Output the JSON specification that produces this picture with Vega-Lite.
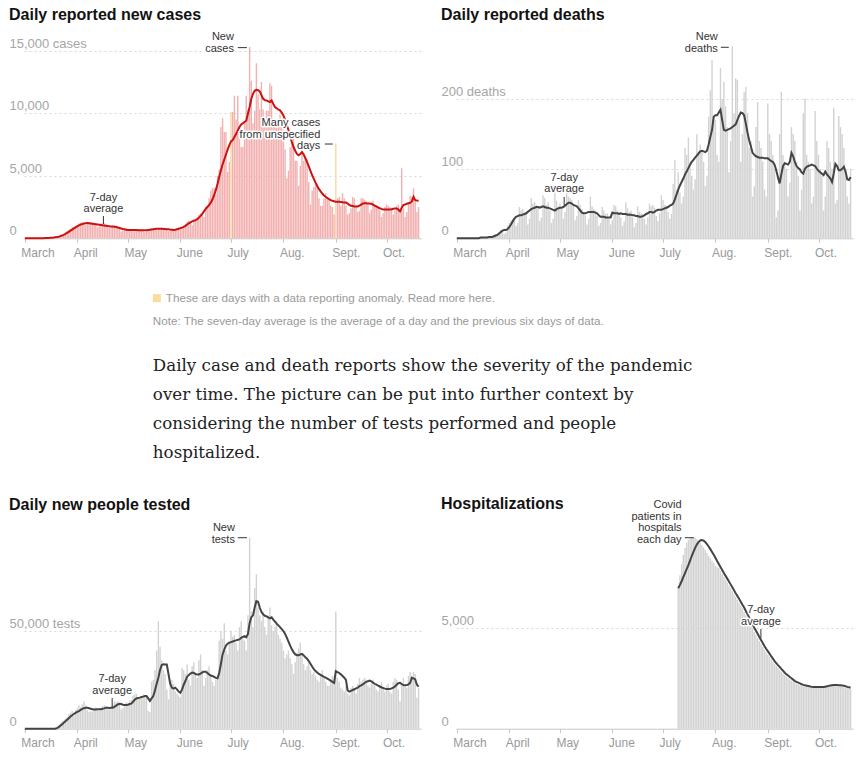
{
"$schema":"https://vega.github.io/schema/vega-lite/v6.json",
"background":"white",
"padding":{"left":9,"top":7,"right":5,"bottom":5},
"datasets":{"daily":[
{"date":"2020-03-01","cases":0,"cavg":0,"deaths":0,"davg":0,"tests":0,"tavg":0},
{"date":"2020-03-02","cases":2,"cavg":0,"deaths":0,"davg":0,"tests":0,"tavg":0},
{"date":"2020-03-03","cases":0,"cavg":0,"deaths":0,"davg":0,"tests":0,"tavg":0},
{"date":"2020-03-04","cases":1,"cavg":1,"deaths":0,"davg":0,"tests":0,"tavg":0},
{"date":"2020-03-05","cases":2,"cavg":1,"deaths":0,"davg":0,"tests":0,"tavg":0},
{"date":"2020-03-06","cases":3,"cavg":2,"deaths":0,"davg":0,"tests":0,"tavg":0},
{"date":"2020-03-07","cases":1,"cavg":2,"deaths":0,"davg":0,"tests":0,"tavg":0},
{"date":"2020-03-08","cases":4,"cavg":3,"deaths":0,"davg":0,"tests":0,"tavg":0},
{"date":"2020-03-09","cases":4,"cavg":4,"deaths":0,"davg":0,"tests":0,"tavg":0},
{"date":"2020-03-10","cases":6,"cavg":5,"deaths":0,"davg":0,"tests":0,"tavg":0},
{"date":"2020-03-11","cases":8,"cavg":7,"deaths":0,"davg":0,"tests":0,"tavg":0},
{"date":"2020-03-12","cases":12,"cavg":10,"deaths":1,"davg":0,"tests":0,"tavg":0},
{"date":"2020-03-13","cases":14,"cavg":15,"deaths":0,"davg":0,"tests":0,"tavg":0},
{"date":"2020-03-14","cases":22,"cavg":20,"deaths":1,"davg":0,"tests":0,"tavg":0},
{"date":"2020-03-15","cases":26,"cavg":27,"deaths":0,"davg":1,"tests":0,"tavg":0},
{"date":"2020-03-16","cases":38,"cavg":35,"deaths":1,"davg":1,"tests":0,"tavg":0},
{"date":"2020-03-17","cases":50,"cavg":45,"deaths":2,"davg":1,"tests":0,"tavg":0},
{"date":"2020-03-18","cases":70,"cavg":60,"deaths":1,"davg":1,"tests":200,"tavg":0},
{"date":"2020-03-19","cases":95,"cavg":80,"deaths":3,"davg":1,"tests":500,"tavg":0},
{"date":"2020-03-20","cases":115,"cavg":100,"deaths":2,"davg":2,"tests":900,"tavg":300},
{"date":"2020-03-21","cases":150,"cavg":130,"deaths":3,"davg":2,"tests":1800,"tavg":800},
{"date":"2020-03-22","cases":220,"cavg":170,"deaths":2,"davg":2,"tests":2800,"tavg":1500},
{"date":"2020-03-23","cases":280,"cavg":220,"deaths":4,"davg":3,"tests":3500,"tavg":2200},
{"date":"2020-03-24","cases":360,"cavg":280,"deaths":6,"davg":4,"tests":4200,"tavg":3000},
{"date":"2020-03-25","cases":470,"cavg":350,"deaths":5,"davg":5,"tests":5000,"tavg":3800},
{"date":"2020-03-26","cases":580,"cavg":430,"deaths":9,"davg":7,"tests":6000,"tavg":4600},
{"date":"2020-03-27","cases":690,"cavg":520,"deaths":12,"davg":9,"tests":7500,"tavg":5400},
{"date":"2020-03-28","cases":760,"cavg":610,"deaths":10,"davg":11,"tests":8200,"tavg":6200},
{"date":"2020-03-29","cases":880,"cavg":700,"deaths":6,"davg":12,"tests":9000,"tavg":6900},
{"date":"2020-03-30","cases":830,"cavg":790,"deaths":8,"davg":12,"tests":6500,"tavg":7500},
{"date":"2020-03-31","cases":1000,"cavg":880,"deaths":18,"davg":13,"tests":9600,"tavg":8100},
{"date":"2020-04-01","cases":1050,"cavg":960,"deaths":22,"davg":16,"tests":10500,"tavg":8600},
{"date":"2020-04-02","cases":1200,"cavg":1030,"deaths":26,"davg":20,"tests":12000,"tavg":9000},
{"date":"2020-04-03","cases":1260,"cavg":1090,"deaths":28,"davg":24,"tests":11000,"tavg":9600},
{"date":"2020-04-04","cases":1250,"cavg":1140,"deaths":30,"davg":28,"tests":12500,"tavg":10100},
{"date":"2020-04-05","cases":1220,"cavg":1180,"deaths":18,"davg":31,"tests":14000,"tavg":10500},
{"date":"2020-04-06","cases":1030,"cavg":1210,"deaths":22,"davg":32,"tests":12000,"tavg":10700},
{"date":"2020-04-07","cases":1100,"cavg":1220,"deaths":45,"davg":33,"tests":9500,"tavg":10750},
{"date":"2020-04-08","cases":1300,"cavg":1210,"deaths":40,"davg":33,"tests":8500,"tavg":10500},
{"date":"2020-04-09","cases":1270,"cavg":1190,"deaths":42,"davg":34,"tests":9000,"tavg":10200},
{"date":"2020-04-10","cases":1250,"cavg":1170,"deaths":35,"davg":35,"tests":8800,"tavg":9900},
{"date":"2020-04-11","cases":1180,"cavg":1150,"deaths":36,"davg":36,"tests":10500,"tavg":9800},
{"date":"2020-04-12","cases":1150,"cavg":1130,"deaths":20,"davg":38,"tests":11000,"tavg":9800},
{"date":"2020-04-13","cases":880,"cavg":1110,"deaths":28,"davg":40,"tests":9500,"tavg":9900},
{"date":"2020-04-14","cases":960,"cavg":1090,"deaths":58,"davg":42,"tests":9200,"tavg":9900},
{"date":"2020-04-15","cases":1180,"cavg":1070,"deaths":50,"davg":43,"tests":10500,"tavg":10000},
{"date":"2020-04-16","cases":1200,"cavg":1040,"deaths":52,"davg":44,"tests":11500,"tavg":10200},
{"date":"2020-04-17","cases":1200,"cavg":1020,"deaths":48,"davg":45,"tests":12000,"tavg":10400},
{"date":"2020-04-18","cases":1100,"cavg":1000,"deaths":46,"davg":45,"tests":11500,"tavg":10750},
{"date":"2020-04-19","cases":1000,"cavg":980,"deaths":25,"davg":44,"tests":10000,"tavg":10700},
{"date":"2020-04-20","cases":850,"cavg":960,"deaths":30,"davg":45,"tests":9800,"tavg":10600},
{"date":"2020-04-21","cases":880,"cavg":950,"deaths":62,"davg":46,"tests":11000,"tavg":10700},
{"date":"2020-04-22","cases":1050,"cavg":935,"deaths":58,"davg":45,"tests":12500,"tavg":10750},
{"date":"2020-04-23","cases":1040,"cavg":925,"deaths":48,"davg":44,"tests":14000,"tavg":11200},
{"date":"2020-04-24","cases":1010,"cavg":900,"deaths":52,"davg":44,"tests":13500,"tavg":11800},
{"date":"2020-04-25","cases":950,"cavg":870,"deaths":40,"davg":43,"tests":14000,"tavg":12400},
{"date":"2020-04-26","cases":800,"cavg":830,"deaths":22,"davg":42,"tests":13000,"tavg":12800},
{"date":"2020-04-27","cases":550,"cavg":790,"deaths":28,"davg":41,"tests":10000,"tavg":12600},
{"date":"2020-04-28","cases":620,"cavg":750,"deaths":72,"davg":40,"tests":10500,"tavg":12300},
{"date":"2020-04-29","cases":750,"cavg":720,"deaths":54,"davg":42,"tests":11500,"tavg":12100},
{"date":"2020-04-30","cases":810,"cavg":690,"deaths":46,"davg":43,"tests":13500,"tavg":12100},
{"date":"2020-05-01","cases":780,"cavg":670,"deaths":50,"davg":44,"tests":13000,"tavg":12300},
{"date":"2020-05-02","cases":720,"cavg":660,"deaths":42,"davg":44,"tests":14500,"tavg":12600},
{"date":"2020-05-03","cases":660,"cavg":660,"deaths":28,"davg":45,"tests":14500,"tavg":12800},
{"date":"2020-05-04","cases":560,"cavg":660,"deaths":38,"davg":47,"tests":17000,"tavg":13800},
{"date":"2020-05-05","cases":600,"cavg":660,"deaths":68,"davg":49,"tests":17500,"tavg":14800},
{"date":"2020-05-06","cases":710,"cavg":660,"deaths":60,"davg":51,"tests":18000,"tavg":15500},
{"date":"2020-05-07","cases":730,"cavg":650,"deaths":58,"davg":51,"tests":16000,"tavg":15700},
{"date":"2020-05-08","cases":740,"cavg":650,"deaths":55,"davg":50,"tests":15500,"tavg":15900},
{"date":"2020-05-09","cases":700,"cavg":640,"deaths":48,"davg":48,"tests":16500,"tavg":16200},
{"date":"2020-05-10","cases":620,"cavg":640,"deaths":26,"davg":47,"tests":17500,"tavg":16400},
{"date":"2020-05-11","cases":480,"cavg":640,"deaths":32,"davg":46,"tests":17000,"tavg":16700},
{"date":"2020-05-12","cases":560,"cavg":640,"deaths":55,"davg":43,"tests":16500,"tavg":16700},
{"date":"2020-05-13","cases":700,"cavg":660,"deaths":48,"davg":40,"tests":9000,"tavg":15500},
{"date":"2020-05-14","cases":760,"cavg":680,"deaths":42,"davg":37,"tests":8500,"tavg":14200},
{"date":"2020-05-15","cases":800,"cavg":700,"deaths":38,"davg":36,"tests":24000,"tavg":15500},
{"date":"2020-05-16","cases":780,"cavg":720,"deaths":33,"davg":36,"tests":25000,"tavg":16700},
{"date":"2020-05-17","cases":750,"cavg":740,"deaths":20,"davg":37,"tests":30000,"tavg":19500},
{"date":"2020-05-18","cases":630,"cavg":760,"deaths":28,"davg":38,"tests":40000,"tavg":23000},
{"date":"2020-05-19","cases":680,"cavg":770,"deaths":60,"davg":38,"tests":55000,"tavg":26100},
{"date":"2020-05-20","cases":850,"cavg":770,"deaths":46,"davg":38,"tests":42000,"tavg":30000},
{"date":"2020-05-21","cases":860,"cavg":760,"deaths":42,"davg":38,"tests":35000,"tavg":32600},
{"date":"2020-05-22","cases":830,"cavg":750,"deaths":40,"davg":37,"tests":30000,"tavg":33000},
{"date":"2020-05-23","cases":800,"cavg":740,"deaths":32,"davg":36,"tests":28000,"tavg":32900},
{"date":"2020-05-24","cases":700,"cavg":730,"deaths":18,"davg":33,"tests":20000,"tavg":32900},
{"date":"2020-05-25","cases":560,"cavg":720,"deaths":22,"davg":31,"tests":15000,"tavg":28000},
{"date":"2020-05-26","cases":620,"cavg":700,"deaths":45,"davg":31,"tests":22000,"tavg":23000},
{"date":"2020-05-27","cases":740,"cavg":690,"deaths":40,"davg":31,"tests":25000,"tavg":21000},
{"date":"2020-05-28","cases":760,"cavg":670,"deaths":35,"davg":30,"tests":23000,"tavg":20500},
{"date":"2020-05-29","cases":750,"cavg":690,"deaths":36,"davg":30,"tests":19000,"tavg":21000},
{"date":"2020-05-30","cases":850,"cavg":720,"deaths":28,"davg":30,"tests":18000,"tavg":20100},
{"date":"2020-05-31","cases":800,"cavg":760,"deaths":20,"davg":30,"tests":17000,"tavg":19000},
{"date":"2020-06-01","cases":680,"cavg":800,"deaths":26,"davg":37,"tests":16000,"tavg":18400},
{"date":"2020-06-02","cases":780,"cavg":850,"deaths":48,"davg":36,"tests":31000,"tavg":20000},
{"date":"2020-06-03","cases":1000,"cavg":920,"deaths":46,"davg":36,"tests":30000,"tavg":22500},
{"date":"2020-06-04","cases":1100,"cavg":1000,"deaths":40,"davg":36,"tests":28000,"tavg":24400},
{"date":"2020-06-05","cases":1300,"cavg":1100,"deaths":38,"davg":35,"tests":33000,"tavg":26500},
{"date":"2020-06-06","cases":1400,"cavg":1200,"deaths":30,"davg":36,"tests":25000,"tavg":27500},
{"date":"2020-06-07","cases":1270,"cavg":1280,"deaths":18,"davg":35,"tests":22000,"tavg":28200},
{"date":"2020-06-08","cases":1050,"cavg":1350,"deaths":24,"davg":35,"tests":32000,"tavg":28700},
{"date":"2020-06-09","cases":1300,"cavg":1400,"deaths":52,"davg":35,"tests":34000,"tavg":28500},
{"date":"2020-06-10","cases":1600,"cavg":1450,"deaths":43,"davg":34,"tests":28000,"tavg":28000},
{"date":"2020-06-11","cases":1700,"cavg":1520,"deaths":38,"davg":34,"tests":26000,"tavg":27800},
{"date":"2020-06-12","cases":1900,"cavg":1650,"deaths":40,"davg":34,"tests":35000,"tavg":27800},
{"date":"2020-06-13","cases":2000,"cavg":1800,"deaths":30,"davg":33,"tests":38000,"tavg":28200},
{"date":"2020-06-14","cases":1900,"cavg":1950,"deaths":16,"davg":33,"tests":30000,"tavg":28800},
{"date":"2020-06-15","cases":1700,"cavg":2150,"deaths":22,"davg":32,"tests":22000,"tavg":29200},
{"date":"2020-06-16","cases":2500,"cavg":2350,"deaths":46,"davg":32,"tests":26000,"tavg":29200},
{"date":"2020-06-17","cases":2600,"cavg":2500,"deaths":38,"davg":31,"tests":30000,"tavg":28500},
{"date":"2020-06-18","cases":3200,"cavg":2650,"deaths":36,"davg":31,"tests":32000,"tavg":27800},
{"date":"2020-06-19","cases":3800,"cavg":2850,"deaths":35,"davg":32,"tests":28000,"tavg":27200},
{"date":"2020-06-20","cases":4000,"cavg":3100,"deaths":28,"davg":33,"tests":24000,"tavg":27000},
{"date":"2020-06-21","cases":4050,"cavg":3450,"deaths":20,"davg":35,"tests":22000,"tavg":26500},
{"date":"2020-06-22","cases":3500,"cavg":3850,"deaths":30,"davg":36,"tests":25000,"tavg":26000},
{"date":"2020-06-23","cases":5000,"cavg":4350,"deaths":50,"davg":38,"tests":27000,"tavg":25800},
{"date":"2020-06-24","cases":5500,"cavg":4900,"deaths":46,"davg":38,"tests":45000,"tavg":28500},
{"date":"2020-06-25","cases":8900,"cavg":5450,"deaths":48,"davg":37,"tests":50000,"tavg":33000},
{"date":"2020-06-26","cases":9600,"cavg":5900,"deaths":44,"davg":38,"tests":46000,"tavg":38000},
{"date":"2020-06-27","cases":8500,"cavg":6300,"deaths":32,"davg":40,"tests":54000,"tavg":40500},
{"date":"2020-06-28","cases":8500,"cavg":6700,"deaths":25,"davg":41,"tests":40000,"tavg":42500},
{"date":"2020-06-29","cases":5300,"cavg":7100,"deaths":36,"davg":41,"tests":38000,"tavg":43500},
{"date":"2020-06-30","cases":6100,"cavg":7450,"deaths":62,"davg":41,"tests":44000,"tavg":44000},
{"date":"2020-07-01","cases":10100,"cavg":7750,"deaths":55,"davg":42,"tests":50000,"tavg":44300,"anomaly":true},
{"date":"2020-07-02","cases":10100,"cavg":7850,"deaths":48,"davg":43,"tests":47000,"tavg":44600},
{"date":"2020-07-03","cases":11400,"cavg":8100,"deaths":47,"davg":44,"tests":48000,"tavg":45000},
{"date":"2020-07-04","cases":9500,"cavg":8350,"deaths":38,"davg":45,"tests":44000,"tavg":45200},
{"date":"2020-07-05","cases":11400,"cavg":8600,"deaths":28,"davg":47,"tests":40000,"tavg":45500},
{"date":"2020-07-06","cases":8500,"cavg":8900,"deaths":35,"davg":48,"tests":52000,"tavg":45700},
{"date":"2020-07-07","cases":7300,"cavg":9100,"deaths":78,"davg":50,"tests":55000,"tavg":46500},
{"date":"2020-07-08","cases":7300,"cavg":9200,"deaths":113,"davg":56,"tests":46000,"tavg":47000},
{"date":"2020-07-09","cases":9400,"cavg":9300,"deaths":70,"davg":63,"tests":45000,"tavg":47400},
{"date":"2020-07-10","cases":11400,"cavg":9400,"deaths":95,"davg":70,"tests":40000,"tavg":46800,"hosp":7000,"havg":6950},
{"date":"2020-07-11","cases":10300,"cavg":9970,"deaths":66,"davg":76,"tests":58000,"tavg":48500,"hosp":7600,"havg":7120},
{"date":"2020-07-12","cases":15300,"cavg":10500,"deaths":50,"davg":81,"tests":97800,"tavg":54000,"hosp":8150,"havg":7300},
{"date":"2020-07-13","cases":12600,"cavg":11160,"deaths":60,"davg":86,"tests":60000,"tavg":57000,"hosp":8600,"havg":7500},
{"date":"2020-07-14","cases":9200,"cavg":11550,"deaths":130,"davg":92,"tests":52000,"tavg":58000,"hosp":8950,"havg":7700},
{"date":"2020-07-15","cases":10200,"cavg":11800,"deaths":120,"davg":96,"tests":72000,"tavg":62000,"hosp":9200,"havg":7900},
{"date":"2020-07-16","cases":14000,"cavg":11880,"deaths":145,"davg":101,"tests":79000,"tavg":65300,"hosp":9350,"havg":8100},
{"date":"2020-07-17","cases":11500,"cavg":11850,"deaths":110,"davg":106,"tests":62000,"tavg":65000,"hosp":9430,"havg":8320},
{"date":"2020-07-18","cases":10300,"cavg":11750,"deaths":90,"davg":110,"tests":58000,"tavg":62000,"hosp":9470,"havg":8550},
{"date":"2020-07-19","cases":12500,"cavg":11450,"deaths":70,"davg":113,"tests":55000,"tavg":59700,"hosp":9470,"havg":8750},
{"date":"2020-07-20","cases":10300,"cavg":11160,"deaths":85,"davg":116,"tests":60000,"tavg":58500,"hosp":9440,"havg":8950},
{"date":"2020-07-21","cases":9400,"cavg":11050,"deaths":150,"davg":119,"tests":52000,"tavg":57800,"hosp":9380,"havg":9120},
{"date":"2020-07-22","cases":10200,"cavg":11030,"deaths":120,"davg":122,"tests":48000,"tavg":57500,"hosp":9300,"havg":9240},
{"date":"2020-07-23","cases":10200,"cavg":10950,"deaths":135,"davg":125,"tests":58000,"tavg":57000,"hosp":9200,"havg":9320},
{"date":"2020-07-24","cases":12400,"cavg":10900,"deaths":125,"davg":126,"tests":62000,"tavg":56500,"hosp":9090,"havg":9340},
{"date":"2020-07-25","cases":12200,"cavg":11030,"deaths":110,"davg":125,"tests":53000,"tavg":57000,"hosp":8970,"havg":9310},
{"date":"2020-07-26","cases":9300,"cavg":10750,"deaths":75,"davg":124,"tests":50000,"tavg":55800,"hosp":8840,"havg":9240},
{"date":"2020-07-27","cases":8900,"cavg":10500,"deaths":90,"davg":126,"tests":52000,"tavg":54800,"hosp":8700,"havg":9140},
{"date":"2020-07-28","cases":9200,"cavg":10400,"deaths":175,"davg":135,"tests":55000,"tavg":53800,"hosp":8560,"havg":9020},
{"date":"2020-07-29","cases":9400,"cavg":10300,"deaths":213,"davg":146,"tests":48000,"tavg":52900,"hosp":8440,"havg":8890},
{"date":"2020-07-30","cases":9900,"cavg":10230,"deaths":256,"davg":156,"tests":46000,"tavg":52000,"hosp":8320,"havg":8750},
{"date":"2020-07-31","cases":9000,"cavg":10050,"deaths":175,"davg":175,"tests":44000,"tavg":51000,"hosp":8200,"havg":8610},
{"date":"2020-08-01","cases":9600,"cavg":9830,"deaths":170,"davg":177,"tests":40000,"tavg":50000,"hosp":8060,"havg":8460},
{"date":"2020-08-02","cases":7100,"cavg":9450,"deaths":120,"davg":177,"tests":36000,"tavg":48500,"hosp":8000,"havg":8300},
{"date":"2020-08-03","cases":4800,"cavg":9050,"deaths":110,"davg":181,"tests":38000,"tavg":46600,"hosp":7950,"havg":8150},
{"date":"2020-08-04","cases":5400,"cavg":8640,"deaths":245,"davg":185,"tests":40000,"tavg":44500,"hosp":7810,"havg":8000},
{"date":"2020-08-05","cases":7300,"cavg":8150,"deaths":200,"davg":170,"tests":36000,"tavg":42500,"hosp":7660,"havg":7860},
{"date":"2020-08-06","cases":7700,"cavg":7700,"deaths":225,"davg":156,"tests":33000,"tavg":40600,"hosp":7520,"havg":7710},
{"date":"2020-08-07","cases":8500,"cavg":7300,"deaths":190,"davg":155,"tests":28000,"tavg":39200,"hosp":7380,"havg":7570},
{"date":"2020-08-08","cases":6200,"cavg":7000,"deaths":160,"davg":156,"tests":34000,"tavg":38000,"hosp":7240,"havg":7430},
{"date":"2020-08-09","cases":6200,"cavg":6750,"deaths":95,"davg":157,"tests":39000,"tavg":37600,"hosp":7095,"havg":7290},
{"date":"2020-08-10","cases":4200,"cavg":6640,"deaths":140,"davg":158,"tests":41000,"tavg":37600,"hosp":6950,"havg":7145},
{"date":"2020-08-11","cases":5800,"cavg":6750,"deaths":276,"davg":160,"tests":44000,"tavg":38000,"hosp":6810,"havg":7000},
{"date":"2020-08-12","cases":8100,"cavg":6900,"deaths":180,"davg":162,"tests":38000,"tavg":38300,"hosp":6660,"havg":6860},
{"date":"2020-08-13","cases":6200,"cavg":6700,"deaths":230,"davg":164,"tests":33000,"tavg":37500,"hosp":6520,"havg":6710},
{"date":"2020-08-14","cases":6400,"cavg":6400,"deaths":228,"davg":170,"tests":30000,"tavg":36500,"hosp":6380,"havg":6570},
{"date":"2020-08-15","cases":6300,"cavg":6100,"deaths":170,"davg":176,"tests":32000,"tavg":35800,"hosp":6240,"havg":6430},
{"date":"2020-08-16","cases":4500,"cavg":5750,"deaths":110,"davg":181,"tests":34000,"tavg":34600,"hosp":6090,"havg":6290},
{"date":"2020-08-17","cases":2700,"cavg":5400,"deaths":150,"davg":180,"tests":30000,"tavg":33200,"hosp":5950,"havg":6140},
{"date":"2020-08-18","cases":3800,"cavg":5050,"deaths":210,"davg":177,"tests":28000,"tavg":31800,"hosp":5780,"havg":6000},
{"date":"2020-08-19","cases":4100,"cavg":4750,"deaths":218,"davg":165,"tests":29000,"tavg":30500,"hosp":5620,"havg":5830},
{"date":"2020-08-20","cases":4300,"cavg":4450,"deaths":180,"davg":152,"tests":27000,"tavg":29500,"hosp":5450,"havg":5670},
{"date":"2020-08-21","cases":4300,"cavg":4180,"deaths":130,"davg":141,"tests":25000,"tavg":28800,"hosp":5280,"havg":5500},
{"date":"2020-08-22","cases":3200,"cavg":3950,"deaths":140,"davg":132,"tests":24000,"tavg":28000,"hosp":5120,"havg":5330},
{"date":"2020-08-23","cases":2600,"cavg":3750,"deaths":60,"davg":123,"tests":28000,"tavg":27500,"hosp":4950,"havg":5170},
{"date":"2020-08-24","cases":2600,"cavg":3580,"deaths":75,"davg":120,"tests":30000,"tavg":27000,"hosp":4800,"havg":5000},
{"date":"2020-08-25","cases":3200,"cavg":3430,"deaths":160,"davg":118,"tests":26000,"tavg":26500,"hosp":4650,"havg":4850},
{"date":"2020-08-26","cases":3600,"cavg":3320,"deaths":196,"davg":117,"tests":24000,"tavg":26100,"hosp":4490,"havg":4700},
{"date":"2020-08-27","cases":3300,"cavg":3220,"deaths":140,"davg":116,"tests":22000,"tavg":25600,"hosp":4340,"havg":4540},
{"date":"2020-08-28","cases":3200,"cavg":3130,"deaths":130,"davg":116,"tests":22000,"tavg":25100,"hosp":4190,"havg":4390},
{"date":"2020-08-29","cases":2600,"cavg":3060,"deaths":110,"davg":116,"tests":25000,"tavg":24600,"hosp":4040,"havg":4240},
{"date":"2020-08-30","cases":2500,"cavg":3000,"deaths":70,"davg":115,"tests":27000,"tavg":24000,"hosp":3910,"havg":4090},
{"date":"2020-08-31","cases":1900,"cavg":2960,"deaths":60,"davg":115,"tests":24000,"tavg":23500,"hosp":3790,"havg":3960},
{"date":"2020-09-01","cases":7600,"cavg":2930,"deaths":194,"davg":115,"tests":60000,"tavg":29500,"hosp":3670,"havg":3840,"anomaly":true},
{"date":"2020-09-02","cases":3200,"cavg":2920,"deaths":150,"davg":113,"tests":26000,"tavg":29000,"hosp":3540,"havg":3720},
{"date":"2020-09-03","cases":3300,"cavg":2920,"deaths":140,"davg":111,"tests":24000,"tavg":28500,"hosp":3420,"havg":3590},
{"date":"2020-09-04","cases":2600,"cavg":2900,"deaths":120,"davg":110,"tests":21000,"tavg":27800,"hosp":3300,"havg":3470},
{"date":"2020-09-05","cases":3600,"cavg":2880,"deaths":100,"davg":106,"tests":20000,"tavg":27000,"hosp":3200,"havg":3350},
{"date":"2020-09-06","cases":3200,"cavg":2870,"deaths":30,"davg":98,"tests":19000,"tavg":26100,"hosp":3100,"havg":3250},
{"date":"2020-09-07","cases":2600,"cavg":2860,"deaths":40,"davg":88,"tests":22000,"tavg":25000,"hosp":3010,"havg":3150},
{"date":"2020-09-08","cases":1900,"cavg":2780,"deaths":150,"davg":79,"tests":18000,"tavg":19600,"hosp":2910,"havg":3060},
{"date":"2020-09-09","cases":2000,"cavg":2680,"deaths":211,"davg":92,"tests":17000,"tavg":19000,"hosp":2820,"havg":2960},
{"date":"2020-09-10","cases":2400,"cavg":2600,"deaths":120,"davg":104,"tests":21000,"tavg":19400,"hosp":2720,"havg":2870},
{"date":"2020-09-11","cases":3300,"cavg":2580,"deaths":110,"davg":108,"tests":22000,"tavg":19800,"hosp":2650,"havg":2770},
{"date":"2020-09-12","cases":3200,"cavg":2550,"deaths":100,"davg":107,"tests":20000,"tavg":20200,"hosp":2580,"havg":2700},
{"date":"2020-09-13","cases":2600,"cavg":2550,"deaths":60,"davg":106,"tests":18000,"tavg":20600,"hosp":2510,"havg":2630},
{"date":"2020-09-14","cases":2100,"cavg":2550,"deaths":80,"davg":110,"tests":23000,"tavg":21000,"hosp":2450,"havg":2560},
{"date":"2020-09-15","cases":2200,"cavg":2620,"deaths":160,"davg":123,"tests":26000,"tavg":21800,"hosp":2380,"havg":2500},
{"date":"2020-09-16","cases":3200,"cavg":2700,"deaths":150,"davg":118,"tests":24000,"tavg":22200,"hosp":2310,"havg":2430},
{"date":"2020-09-17","cases":3200,"cavg":2780,"deaths":140,"davg":110,"tests":25000,"tavg":22700,"hosp":2270,"havg":2360},
{"date":"2020-09-18","cases":3100,"cavg":2800,"deaths":110,"davg":104,"tests":26000,"tavg":23400,"hosp":2230,"havg":2320},
{"date":"2020-09-19","cases":3000,"cavg":2800,"deaths":90,"davg":101,"tests":25000,"tavg":24000,"hosp":2190,"havg":2280},
{"date":"2020-09-20","cases":2800,"cavg":2790,"deaths":40,"davg":99,"tests":22000,"tavg":24300,"hosp":2150,"havg":2240},
{"date":"2020-09-21","cases":2000,"cavg":2790,"deaths":70,"davg":95,"tests":21000,"tavg":24600,"hosp":2120,"havg":2200},
{"date":"2020-09-22","cases":2300,"cavg":2760,"deaths":180,"davg":93,"tests":23000,"tavg":24200,"hosp":2100,"havg":2170},
{"date":"2020-09-23","cases":3000,"cavg":2700,"deaths":201,"davg":100,"tests":25000,"tavg":23600,"hosp":2080,"havg":2150},
{"date":"2020-09-24","cases":2700,"cavg":2620,"deaths":120,"davg":103,"tests":22000,"tavg":23000,"hosp":2060,"havg":2130},
{"date":"2020-09-25","cases":2500,"cavg":2550,"deaths":110,"davg":104,"tests":20000,"tavg":22500,"hosp":2040,"havg":2110},
{"date":"2020-09-26","cases":2500,"cavg":2470,"deaths":100,"davg":105,"tests":19000,"tavg":22000,"hosp":2020,"havg":2090},
{"date":"2020-09-27","cases":2200,"cavg":2400,"deaths":50,"davg":106,"tests":22000,"tavg":21600,"hosp":2010,"havg":2070},
{"date":"2020-09-28","cases":1700,"cavg":2350,"deaths":60,"davg":105,"tests":24000,"tavg":21200,"hosp":2010,"havg":2060},
{"date":"2020-09-29","cases":2000,"cavg":2310,"deaths":183,"davg":104,"tests":21000,"tavg":20800,"hosp":2010,"havg":2060},
{"date":"2020-09-30","cases":2500,"cavg":2300,"deaths":140,"davg":100,"tests":19000,"tavg":20500,"hosp":2010,"havg":2060},
{"date":"2020-10-01","cases":2700,"cavg":2310,"deaths":120,"davg":97,"tests":22000,"tavg":20300,"hosp":2010,"havg":2060},
{"date":"2020-10-02","cases":2600,"cavg":2310,"deaths":100,"davg":95,"tests":23000,"tavg":20300,"hosp":2010,"havg":2060},
{"date":"2020-10-03","cases":2500,"cavg":2310,"deaths":90,"davg":93,"tests":19000,"tavg":20300,"hosp":2030,"havg":2060},
{"date":"2020-10-04","cases":2400,"cavg":2330,"deaths":40,"davg":91,"tests":18000,"tavg":20600,"hosp":2050,"havg":2060},
{"date":"2020-10-05","cases":1900,"cavg":2360,"deaths":60,"davg":96,"tests":24000,"tavg":21000,"hosp":2070,"havg":2080},
{"date":"2020-10-06","cases":2200,"cavg":2390,"deaths":140,"davg":92,"tests":26000,"tavg":21600,"hosp":2090,"havg":2100},
{"date":"2020-10-07","cases":2600,"cavg":2390,"deaths":130,"davg":89,"tests":25000,"tavg":22500,"hosp":2100,"havg":2120},
{"date":"2020-10-08","cases":2700,"cavg":2300,"deaths":110,"davg":86,"tests":20000,"tavg":23300,"hosp":2110,"havg":2140},
{"date":"2020-10-09","cases":2000,"cavg":2150,"deaths":100,"davg":81,"tests":14000,"tavg":23500,"hosp":2110,"havg":2150},
{"date":"2020-10-10","cases":5600,"cavg":2450,"deaths":188,"davg":93,"tests":22000,"tavg":22800,"hosp":2110,"havg":2160},
{"date":"2020-10-11","cases":2400,"cavg":2660,"deaths":50,"davg":107,"tests":26000,"tavg":22300,"hosp":2110,"havg":2160},
{"date":"2020-10-12","cases":1700,"cavg":2700,"deaths":55,"davg":104,"tests":22000,"tavg":22200,"hosp":2100,"havg":2160},
{"date":"2020-10-13","cases":2100,"cavg":2760,"deaths":176,"davg":98,"tests":21000,"tavg":22400,"hosp":2100,"havg":2150},
{"date":"2020-10-14","cases":2900,"cavg":2800,"deaths":160,"davg":98,"tests":27000,"tavg":22700,"hosp":2090,"havg":2150},
{"date":"2020-10-15","cases":3400,"cavg":2840,"deaths":150,"davg":100,"tests":29000,"tavg":23500,"hosp":2080,"havg":2140},
{"date":"2020-10-16","cases":3300,"cavg":2950,"deaths":130,"davg":103,"tests":27000,"tavg":26100,"hosp":2050,"havg":2130},
{"date":"2020-10-17","cases":4000,"cavg":3320,"deaths":90,"davg":96,"tests":29000,"tavg":25800,"hosp":2020,"havg":2100},
{"date":"2020-10-18","cases":3000,"cavg":3050,"deaths":60,"davg":85,"tests":28000,"tavg":25200,"hosp":2000,"havg":2070},
{"date":"2020-10-19","cases":2100,"cavg":3020,"deaths":50,"davg":84,"tests":16000,"tavg":22500,"hosp":1980,"havg":2050},
{"date":"2020-10-20","cases":2500,"cavg":3000,"deaths":100,"davg":88,"tests":21000,"tavg":21500,"hosp":1970,"havg":2030}
]},
"columns":2,
"spacing":{"row":0,"column":34},
"bounds":"flush",
"concat":[
{"width":397.15,"height":211.3,
"title":{"text":"Daily reported new cases","anchor":"start","frame":"bounds","font":"Liberation Sans","fontSize":16,"fontWeight":"bold","color":"#121212","offset":3.6},
"layer":[
{"data":{"name":"daily"},"mark":{"type":"bar","width":1.4},
"encoding":{"x":{"field":"date","type":"temporal","title":null,"scale":{"type":"utc","padding":0,"domain":[{"year":2020,"month":2,"date":29,"hours":12,"utc":true},{"year":2020,"month":10,"date":21,"hours":12,"utc":true}]},"axis":{"values":[{"year":2020,"month":3,"date":1,"utc":true},{"year":2020,"month":4,"date":1,"utc":true},{"year":2020,"month":5,"date":1,"utc":true},{"year":2020,"month":6,"date":1,"utc":true},{"year":2020,"month":7,"date":1,"utc":true},{"year":2020,"month":8,"date":1,"utc":true},{"year":2020,"month":9,"date":1,"utc":true},{"year":2020,"month":10,"date":1,"utc":true}],"labelExpr":"utcmonth(datum.value)==7?'Aug.':utcmonth(datum.value)==8?'Sept.':utcmonth(datum.value)==9?'Oct.':utcFormat(datum.value,'%B')"}},
"y":{"field":"cases","type":"quantitative","title":null,"scale":{"domain":[0,16900],"nice":false},"axis":{"values":[0,5000,10000,15000],"labelExpr":"datum.value==15000?'15,000 cases':datum.label","gridOpacity":{"condition":{"test":"datum.value===0","value":0},"value":1}}},
"color":{"condition":{"test":"datum.anomaly","value":"#f9d89c"},"value":"#f2b0b0"}}},
{"data":{"name":"daily"},"mark":{"type":"line","color":"#cc1111","strokeWidth":2},
"encoding":{"x":{"field":"date","type":"temporal","title":null,"scale":{"type":"utc","padding":0,"domain":[{"year":2020,"month":2,"date":29,"hours":12,"utc":true},{"year":2020,"month":10,"date":21,"hours":12,"utc":true}]}},"y":{"field":"cavg","type":"quantitative","title":null,"scale":{"domain":[0,16900],"nice":false}}}},
{"data":{"values":[{"date":"2020-07-05T00:00:00Z","date2":"2020-07-10T10:00:00Z","v":15250},{"date":"2020-08-25T12:00:00Z","date2":"2020-08-30T05:00:00Z","v":7540}]},
"mark":{"type":"rule","color":"#333333","strokeWidth":1},
"encoding":{"x":{"field":"date","type":"temporal","title":null},"x2":{"field":"date2"},"y":{"field":"v","type":"quantitative","title":null}}},
{"data":{"values":[{"date":"2020-04-16T12:00:00Z","v":1780,"v2":1140}]},
"mark":{"type":"rule","color":"#333333","strokeWidth":1},
"encoding":{"x":{"field":"date","type":"temporal","title":null},"y":{"field":"v","type":"quantitative","title":null},"y2":{"field":"v2"}}},
{"data":{"values":[{"date":"2020-07-02T17:00:00Z","v":16100,"label":"New\ncases"},{"date":"2020-08-22T20:00:00Z","v":9220,"label":"Many cases\nfrom unspecified\ndays"}]},
"encoding":{"x":{"field":"date","type":"temporal","title":null},"y":{"field":"v","type":"quantitative","title":null},"text":{"field":"label"}},
"layer":[
{"mark":{"type":"text","align":"right","baseline":"middle","lineBreak":"\n","fontSize":11,"lineHeight":11.5,"font":"Liberation Sans","color":"white","stroke":"white","strokeWidth":3,"strokeJoin":"round"}},
{"mark":{"type":"text","align":"right","baseline":"middle","lineBreak":"\n","fontSize":11,"lineHeight":11.5,"font":"Liberation Sans","color":"#333333"}}]},
{"data":{"values":[{"date":"2020-04-16T12:00:00Z","v":3260,"label":"7-day\naverage"}]},
"encoding":{"x":{"field":"date","type":"temporal","title":null},"y":{"field":"v","type":"quantitative","title":null},"text":{"field":"label"}},
"layer":[
{"mark":{"type":"text","align":"center","baseline":"middle","lineBreak":"\n","fontSize":11,"lineHeight":11.5,"font":"Liberation Sans","color":"white","stroke":"white","strokeWidth":3,"strokeJoin":"round"}},
{"mark":{"type":"text","align":"center","baseline":"middle","lineBreak":"\n","fontSize":11,"lineHeight":11.5,"font":"Liberation Sans","color":"#333333"}}]}
]},
{"width":397.15,"height":211.3,
"title":{"text":"Daily reported deaths","anchor":"start","frame":"bounds","font":"Liberation Sans","fontSize":16,"fontWeight":"bold","color":"#121212","offset":3.6},
"layer":[
{"data":{"name":"daily"},"mark":{"type":"bar","width":1.4,"color":"#d2d2d2"},
"encoding":{"x":{"field":"date","type":"temporal","title":null,"scale":{"type":"utc","padding":0,"domain":[{"year":2020,"month":2,"date":29,"hours":12,"utc":true},{"year":2020,"month":10,"date":21,"hours":12,"utc":true}]},"axis":{"values":[{"year":2020,"month":3,"date":1,"utc":true},{"year":2020,"month":4,"date":1,"utc":true},{"year":2020,"month":5,"date":1,"utc":true},{"year":2020,"month":6,"date":1,"utc":true},{"year":2020,"month":7,"date":1,"utc":true},{"year":2020,"month":8,"date":1,"utc":true},{"year":2020,"month":9,"date":1,"utc":true},{"year":2020,"month":10,"date":1,"utc":true}],"labelExpr":"utcmonth(datum.value)==7?'Aug.':utcmonth(datum.value)==8?'Sept.':utcmonth(datum.value)==9?'Oct.':utcFormat(datum.value,'%B')"}},
"y":{"field":"deaths","type":"quantitative","title":null,"scale":{"domain":[0,304],"nice":false},"axis":{"values":[0,100,200],"labelExpr":"datum.value==200?'200 deaths':datum.label","gridOpacity":{"condition":{"test":"datum.value===0","value":0},"value":1}}}}},
{"data":{"name":"daily"},"mark":{"type":"line","color":"#444444","strokeWidth":2},
"encoding":{"x":{"field":"date","type":"temporal","title":null,"scale":{"type":"utc","padding":0,"domain":[{"year":2020,"month":2,"date":29,"hours":12,"utc":true},{"year":2020,"month":10,"date":21,"hours":12,"utc":true}]}},"y":{"field":"davg","type":"quantitative","title":null,"scale":{"domain":[0,304],"nice":false}}}},
{"data":{"values":[{"date":"2020-08-04T05:00:00Z","date2":"2020-08-08T22:00:00Z","v":274.8}]},
"mark":{"type":"rule","color":"#333333","strokeWidth":1},
"encoding":{"x":{"field":"date","type":"temporal","title":null},"x2":{"field":"date2"},"y":{"field":"v","type":"quantitative","title":null}}},
{"data":{"values":[{"date":"2020-05-03T12:00:00Z","v":59.4,"v2":47.9}]},
"mark":{"type":"rule","color":"#333333","strokeWidth":1},
"encoding":{"x":{"field":"date","type":"temporal","title":null},"y":{"field":"v","type":"quantitative","title":null},"y2":{"field":"v2"}}},
{"data":{"values":[{"date":"2020-08-02T10:00:00Z","v":289.6,"label":"New\ndeaths"}]},
"encoding":{"x":{"field":"date","type":"temporal","title":null},"y":{"field":"v","type":"quantitative","title":null},"text":{"field":"label"}},
"layer":[
{"mark":{"type":"text","align":"right","baseline":"middle","lineBreak":"\n","fontSize":11,"lineHeight":11.5,"font":"Liberation Sans","color":"white","stroke":"white","strokeWidth":3,"strokeJoin":"round"}},
{"mark":{"type":"text","align":"right","baseline":"middle","lineBreak":"\n","fontSize":11,"lineHeight":11.5,"font":"Liberation Sans","color":"#333333"}}]},
{"data":{"values":[{"date":"2020-05-03T12:00:00Z","v":86.8,"label":"7-day\naverage"}]},
"encoding":{"x":{"field":"date","type":"temporal","title":null},"y":{"field":"v","type":"quantitative","title":null},"text":{"field":"label"}},
"layer":[
{"mark":{"type":"text","align":"center","baseline":"middle","lineBreak":"\n","fontSize":11,"lineHeight":11.5,"font":"Liberation Sans","color":"white","stroke":"white","strokeWidth":3,"strokeJoin":"round"}},
{"mark":{"type":"text","align":"center","baseline":"middle","lineBreak":"\n","fontSize":11,"lineHeight":11.5,"font":"Liberation Sans","color":"#333333"}}]}
]},
{"width":397.15,"height":276.7,
"resolve":{"scale":{"y":"independent"}},
"layer":[
{"data":{"values":[{"line":0}]},"mark":{"type":"square","size":64,"color":"#f9dc9f","opacity":1,"filled":true},
"encoding":{"x":{"value":132.85},"y":{"field":"line","type":"quantitative","axis":null,"scale":{"domain":[0,1],"range":[59.2,82.2]}}}},
{"data":{"values":[{"line":0,"text":"These are days with a data reporting anomaly. Read more here."}]},
"mark":{"type":"text","align":"left","baseline":"middle","font":"Liberation Sans","fontSize":11.65,"color":"#999999"},
"encoding":{"x":{"value":141.85},"y":{"field":"line","type":"quantitative","axis":null,"scale":{"domain":[0,1],"range":[59.7,82.7]}},"text":{"field":"text"}}},
{"data":{"values":[{"line":1,"text":"Note: The seven-day average is the average of a day and the previous six days of data."}]},
"mark":{"type":"text","align":"left","baseline":"middle","font":"Liberation Sans","fontSize":11.65,"color":"#999999"},
"encoding":{"x":{"value":128.85},"y":{"field":"line","type":"quantitative","axis":null,"scale":{"domain":[0,1],"range":[59.7,82.7]}},"text":{"field":"text"}}},
{"data":{"values":[{"line":0,"text":"Daily case and death reports show the severity of the pandemic"},{"line":1,"text":"over time. The picture can be put into further context by"},{"line":2,"text":"considering the number of tests performed and people"},{"line":3,"text":"hospitalized."}]},
"mark":{"type":"text","align":"left","baseline":"middle","font":"DejaVu Serif","fontSize":16.7,"color":"#222222"},
"encoding":{"x":{"value":128.85},"y":{"field":"line","type":"quantitative","axis":null,"scale":{"domain":[0,3],"range":[126.7,213.7]}},"text":{"field":"text"}}}
]},
{"width":397.15,"height":276.7,"data":{"values":[]},"mark":{"type":"point","opacity":0}},
{"width":397.15,"height":212.7,
"title":{"text":"Daily new people tested","anchor":"start","frame":"bounds","font":"Liberation Sans","fontSize":16,"fontWeight":"bold","color":"#121212","offset":2.6},
"layer":[
{"data":{"name":"daily"},"mark":{"type":"bar","width":1.4,"color":"#d2d2d2"},
"encoding":{"x":{"field":"date","type":"temporal","title":null,"scale":{"type":"utc","padding":0,"domain":[{"year":2020,"month":2,"date":29,"hours":12,"utc":true},{"year":2020,"month":10,"date":21,"hours":12,"utc":true}]},"axis":{"values":[{"year":2020,"month":3,"date":1,"utc":true},{"year":2020,"month":4,"date":1,"utc":true},{"year":2020,"month":5,"date":1,"utc":true},{"year":2020,"month":6,"date":1,"utc":true},{"year":2020,"month":7,"date":1,"utc":true},{"year":2020,"month":8,"date":1,"utc":true},{"year":2020,"month":9,"date":1,"utc":true},{"year":2020,"month":10,"date":1,"utc":true}],"labelExpr":"utcmonth(datum.value)==7?'Aug.':utcmonth(datum.value)==8?'Sept.':utcmonth(datum.value)==9?'Oct.':utcFormat(datum.value,'%B')"}},
"y":{"field":"tests","type":"quantitative","title":null,"scale":{"domain":[0,108850],"nice":false},"axis":{"values":[0,50000],"labelExpr":"datum.value==50000?'50,000 tests':datum.label","gridOpacity":{"condition":{"test":"datum.value===0","value":0},"value":1}}}}},
{"data":{"name":"daily"},"mark":{"type":"line","color":"#444444","strokeWidth":2},
"encoding":{"x":{"field":"date","type":"temporal","title":null,"scale":{"type":"utc","padding":0,"domain":[{"year":2020,"month":2,"date":29,"hours":12,"utc":true},{"year":2020,"month":10,"date":21,"hours":12,"utc":true}]}},"y":{"field":"tavg","type":"quantitative","title":null,"scale":{"domain":[0,108850],"nice":false}}}},
{"data":{"values":[{"date":"2020-07-05T00:00:00Z","date2":"2020-07-10T10:00:00Z","v":97750}]},
"mark":{"type":"rule","color":"#333333","strokeWidth":1},
"encoding":{"x":{"field":"date","type":"temporal","title":null},"x2":{"field":"date2"},"y":{"field":"v","type":"quantitative","title":null}}},
{"data":{"values":[{"date":"2020-04-21T16:00:00Z","v":15710,"v2":11100}]},
"mark":{"type":"rule","color":"#333333","strokeWidth":1},
"encoding":{"x":{"field":"date","type":"temporal","title":null},"y":{"field":"v","type":"quantitative","title":null},"y2":{"field":"v2"}}},
{"data":{"values":[{"date":"2020-07-03T07:00:00Z","v":102700,"label":"New\ntests"}]},
"encoding":{"x":{"field":"date","type":"temporal","title":null},"y":{"field":"v","type":"quantitative","title":null},"text":{"field":"label"}},
"layer":[
{"mark":{"type":"text","align":"right","baseline":"middle","lineBreak":"\n","fontSize":11,"lineHeight":11.5,"font":"Liberation Sans","color":"white","stroke":"white","strokeWidth":3,"strokeJoin":"round"}},
{"mark":{"type":"text","align":"right","baseline":"middle","lineBreak":"\n","fontSize":11,"lineHeight":11.5,"font":"Liberation Sans","color":"#333333"}}]},
{"data":{"values":[{"date":"2020-04-21T16:00:00Z","v":25430,"label":"7-day\naverage"}]},
"encoding":{"x":{"field":"date","type":"temporal","title":null},"y":{"field":"v","type":"quantitative","title":null},"text":{"field":"label"}},
"layer":[
{"mark":{"type":"text","align":"center","baseline":"middle","lineBreak":"\n","fontSize":11,"lineHeight":11.5,"font":"Liberation Sans","color":"white","stroke":"white","strokeWidth":3,"strokeJoin":"round"}},
{"mark":{"type":"text","align":"center","baseline":"middle","lineBreak":"\n","fontSize":11,"lineHeight":11.5,"font":"Liberation Sans","color":"#333333"}}]}
]},
{"width":397.15,"height":212.7,
"title":{"text":"Hospitalizations","anchor":"start","frame":"bounds","font":"Liberation Sans","fontSize":16,"fontWeight":"bold","color":"#121212","offset":-13.4},
"layer":[
{"data":{"name":"daily"},"mark":{"type":"bar","width":1.4,"color":"#d2d2d2"},
"encoding":{"x":{"field":"date","type":"temporal","title":null,"scale":{"type":"utc","padding":0,"domain":[{"year":2020,"month":2,"date":29,"hours":12,"utc":true},{"year":2020,"month":10,"date":21,"hours":12,"utc":true}]},"axis":{"values":[{"year":2020,"month":3,"date":1,"utc":true},{"year":2020,"month":4,"date":1,"utc":true},{"year":2020,"month":5,"date":1,"utc":true},{"year":2020,"month":6,"date":1,"utc":true},{"year":2020,"month":7,"date":1,"utc":true},{"year":2020,"month":8,"date":1,"utc":true},{"year":2020,"month":9,"date":1,"utc":true},{"year":2020,"month":10,"date":1,"utc":true}],"labelExpr":"utcmonth(datum.value)==7?'Aug.':utcmonth(datum.value)==8?'Sept.':utcmonth(datum.value)==9?'Oct.':utcFormat(datum.value,'%B')"}},
"y":{"field":"hosp","type":"quantitative","title":null,"scale":{"domain":[0,10530],"nice":false},"axis":{"values":[0,5000],"gridOpacity":{"condition":{"test":"datum.value===0","value":0},"value":1}}}}},
{"data":{"name":"daily"},"mark":{"type":"line","color":"#444444","strokeWidth":2},
"encoding":{"x":{"field":"date","type":"temporal","title":null,"scale":{"type":"utc","padding":0,"domain":[{"year":2020,"month":2,"date":29,"hours":12,"utc":true},{"year":2020,"month":10,"date":21,"hours":12,"utc":true}]}},"y":{"field":"havg","type":"quantitative","title":null,"scale":{"domain":[0,10530],"nice":false}}}},
{"data":{"values":[{"date":"2020-07-13T22:00:00Z","date2":"2020-07-19T05:00:00Z","v":9455}]},
"mark":{"type":"rule","color":"#333333","strokeWidth":1},
"encoding":{"x":{"field":"date","type":"temporal","title":null},"x2":{"field":"date2"},"y":{"field":"v","type":"quantitative","title":null}}},
{"data":{"values":[{"date":"2020-08-27T22:00:00Z","v":4936,"v2":4490}]},
"mark":{"type":"rule","color":"#333333","strokeWidth":1},
"encoding":{"x":{"field":"date","type":"temporal","title":null},"y":{"field":"v","type":"quantitative","title":null},"y2":{"field":"v2"}}},
{"data":{"values":[{"date":"2020-07-12T00:00:00Z","v":11074,"label":"Covid\npatients in\nhospitals\neach day"}]},
"encoding":{"x":{"field":"date","type":"temporal","title":null},"y":{"field":"v","type":"quantitative","title":null},"text":{"field":"label"}},
"layer":[
{"mark":{"type":"text","align":"right","baseline":"middle","lineBreak":"\n","fontSize":11,"lineHeight":11.5,"font":"Liberation Sans","color":"white","stroke":"white","strokeWidth":3,"strokeJoin":"round"}},
{"mark":{"type":"text","align":"right","baseline":"middle","lineBreak":"\n","fontSize":11,"lineHeight":11.5,"font":"Liberation Sans","color":"#333333"}}]},
{"data":{"values":[{"date":"2020-08-27T22:00:00Z","v":5876,"label":"7-day\naverage"}]},
"encoding":{"x":{"field":"date","type":"temporal","title":null},"y":{"field":"v","type":"quantitative","title":null},"text":{"field":"label"}},
"layer":[
{"mark":{"type":"text","align":"center","baseline":"middle","lineBreak":"\n","fontSize":11,"lineHeight":11.5,"font":"Liberation Sans","color":"white","stroke":"white","strokeWidth":3,"strokeJoin":"round"}},
{"mark":{"type":"text","align":"center","baseline":"middle","lineBreak":"\n","fontSize":11,"lineHeight":11.5,"font":"Liberation Sans","color":"#333333"}}]}
]}
],
"config":{
"view":{"stroke":null},
"font":"Liberation Sans",
"axisX":{"domainColor":"#c8c8c8","tickColor":"#c8c8c8","tickSize":4,"labelColor":"#999999","labelFont":"Liberation Sans","labelFontSize":12,"labelAlign":"left","labelOffset":-4,"labelPadding":5,"labelFlush":false,"labelOverlap":false,"grid":false},
"axisY":{"domain":false,"ticks":false,"gridColor":"#d9d9d9","gridDash":[2,3],"labelColor":"#a6a6a6","labelFont":"Liberation Sans","labelFontSize":13,"labelAlign":"left","labelBaseline":"alphabetic","labelPadding":15,"labelOffset":-3.5,"labelOverlap":false,"labelFlush":false}
}
}
